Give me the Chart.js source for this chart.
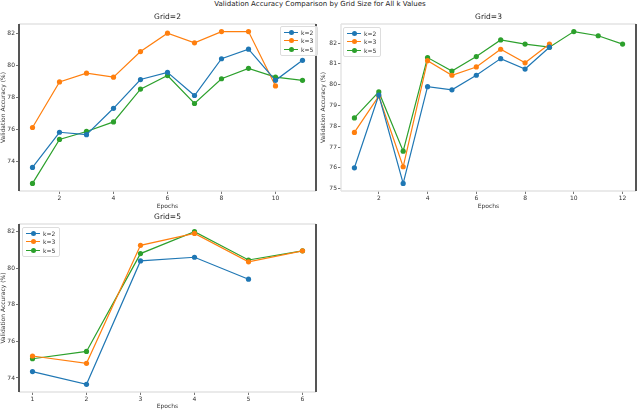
<!DOCTYPE html>
<html>
<head>
<meta charset="utf-8">
<script src="https://cdn.jsdelivr.net/npm/chart.js@4.4.1/dist/chart.umd.min.js"></script>
<style>
    body { margin: 0; background: #fff; font-family: 'DejaVu Sans', sans-serif; }
    #page { position: relative; width: 640px; height: 410px; overflow: hidden; }
    .suptitle { position: absolute; left: 0; top: 0; width: 640px; text-align: center; font-size: 7px; line-height: 9px; color: #222; }
    .panel { position: absolute; width: 320px; height: 210px; }
    .legend { position: absolute; background: rgba(255,255,255,0.85); border: 1px solid #ddd; border-radius: 2px; padding: 1px 4px 1px 3px; font-size: 6px; color: #333; }
    .legend .row { display: flex; align-items: center; height: 8.6px; }
    .legend .swatch { position: relative; width: 14px; height: 6px; margin-right: 3px; }
    .legend .swatch::before { content: ''; position: absolute; left: 0; right: 0; top: 2.4px; border-top: 1.2px solid var(--c); }
    .legend .swatch::after { content: ''; position: absolute; left: 4.5px; top: 0.5px; width: 5px; height: 5px; border-radius: 50%; background: var(--c); }
</style>
</head>
<body>
<div id="page">
    <div class="suptitle">Validation Accuracy Comparison by Grid Size for All k Values</div>
    <div class="panel" style="left:0;top:0"><canvas id="grid2" width="320" height="210"></canvas></div>
    <div class="panel" style="left:320px;top:0"><canvas id="grid3" width="320" height="210"></canvas></div>
    <div class="panel" style="left:0;top:200px"><canvas id="grid5" width="320" height="210"></canvas></div>
    <div class="legend" id="legend2" style="left:280px;top:26px"></div>
    <div class="legend" id="legend3" style="left:343px;top:27px"></div>
    <div class="legend" id="legend5" style="left:22px;top:227px"></div>
</div>
<script>
const kLabels = ['k=2', 'k=3', 'k=5'];
const colors = ['#1f77b4', '#ff7f0e', '#2ca02c'];
const epochs = [1, 2, 3, 4, 5, 6, 7, 8, 9, 10, 11, 12];

// Grid=2
const grid2K2 = [73.6, 75.8, 75.65, 77.3, 79.1, 79.55, 78.1, 80.4, 81.0, 79.05, 80.3];
const grid2K3 = [76.1, 78.95, 79.5, 79.25, 80.85, 82.0, 81.4, 82.1, 82.1, 78.7];
const grid2K5 = [72.6, 75.35, 75.85, 76.45, 78.5, 79.35, 77.6, 79.15, 79.8, 79.25, 79.05];
const grid2XTicks = [2, 4, 6, 8, 10];
const grid2YTicks = [74, 76, 78, 80, 82];

// Grid=3
const grid3K2 = [76.0, 79.5, 75.25, 79.9, 79.75, 80.45, 81.25, 80.75, 81.8];
const grid3K3 = [77.7, 79.45, 76.05, 81.15, 80.45, 80.85, 81.7, 81.05, 81.95];
const grid3K5 = [78.4, 79.65, 76.8, 81.3, 80.65, 81.35, 82.15, 81.95, 81.8, 82.55, 82.35, 81.95];
const grid3XTicks = [2, 4, 6, 8, 10, 12];
const grid3YTicks = [75, 76, 77, 78, 79, 80, 81, 82];

// Grid=5
const grid5K2 = [74.35, 73.65, 80.4, 80.6, 79.4];
const grid5K3 = [75.2, 74.8, 81.25, 81.9, 80.35, 80.95];
const grid5K5 = [75.05, 75.45, 80.8, 82.0, 80.45, 80.95];
const grid5XTicks = [1, 2, 3, 4, 5, 6];
const grid5YTicks = [74, 76, 78, 80, 82];

const FONT = 'DejaVu Sans';

// matplotlib-like 5% margins
function padRange(lo, hi) {
    const m = (hi - lo) * 0.05;
    return [lo - m, hi + m];
}

// spines: light top/bottom, dark right (and left when asked)
const framePlugin = {
    id: 'frame',
    afterDatasetsDraw(chart, args, opts) {
        const { left, right, top, bottom } = chart.chartArea;
        const ctx = chart.ctx;
        ctx.save();
        ctx.lineWidth = 1.5;
        ctx.strokeStyle = '#e4e4e4';
        ctx.beginPath();
        ctx.moveTo(left, top); ctx.lineTo(right, top);
        ctx.moveTo(left, bottom); ctx.lineTo(right, bottom);
        ctx.stroke();
        ctx.strokeStyle = opts.leftColor || '#e4e4e4';
        ctx.lineWidth = opts.leftColor ? 2 : 1.5;
        ctx.beginPath(); ctx.moveTo(left, top); ctx.lineTo(left, bottom); ctx.stroke();
        ctx.strokeStyle = '#555';
        ctx.lineWidth = 2;
        ctx.beginPath(); ctx.moveTo(right, top); ctx.lineTo(right, bottom); ctx.stroke();
        ctx.restore();
    }
};

function buildLegend(id) {
    const box = document.getElementById(id);
    kLabels.forEach((label, i) => {
        const row = document.createElement('div');
        row.className = 'row';
        row.innerHTML = `<span class="swatch" style="--c:${colors[i]}"></span><span>${label}</span>`;
        box.appendChild(row);
    });
}

function makePanel(id, title, series, xTicks, yTicks, cfg) {
    const allY = series.flat();
    const longest = Math.max(...series.map(s => s.length));
    const [xMin, xMax] = padRange(epochs[0], epochs[longest - 1]);
    const [yMin, yMax] = padRange(Math.min(...allY), Math.max(...allY));

    const datasets = series.map((values, i) => ({
        label: kLabels[i],
        data: values.map((v, j) => ({ x: epochs[j], y: v })),
        borderColor: colors[i],
        backgroundColor: colors[i],
        borderWidth: 1.2,
        pointRadius: 2.6,
        pointBorderWidth: 0,
        tension: 0
    }));

    const tickFont = { family: FONT, size: 6 };
    const gridCfg = { drawOnChartArea: false, drawTicks: true, tickLength: 3, tickColor: '#555', tickWidth: 0.8 };

    return new Chart(document.getElementById(id), {
        type: 'line',
        data: { datasets },
        plugins: [framePlugin],
        options: {
            responsive: false,
            animation: false,
            layout: { padding: { top: 12.5, right: cfg.padRight, left: 0, bottom: 0 } },
            plugins: {
                legend: { display: false },
                tooltip: { enabled: false },
                frame: { leftColor: cfg.leftColor },
                title: {
                    display: true,
                    text: title,
                    fullSize: false,
                    color: '#222',
                    font: { family: FONT, size: 7.5, weight: 'normal' },
                    padding: { top: 0, bottom: 2.5 }
                }
            },
            scales: {
                x: {
                    type: 'linear',
                    min: xMin,
                    max: xMax,
                    afterBuildTicks: s => { s.ticks = xTicks.map(v => ({ value: v })); },
                    afterFit: s => { s.height = cfg.xHeight; },
                    ticks: { font: tickFont, color: '#333', padding: 1, maxRotation: 0, autoSkip: false },
                    grid: gridCfg,
                    border: { display: false },
                    title: { display: true, text: 'Epochs', color: '#333', font: tickFont, padding: 0 }
                },
                y: {
                    min: yMin,
                    max: yMax,
                    afterBuildTicks: s => { s.ticks = yTicks.map(v => ({ value: v })); },
                    afterFit: s => { s.width = cfg.yWidth; },
                    ticks: { font: tickFont, color: '#333', padding: 1, autoSkip: false },
                    grid: gridCfg,
                    border: { display: false },
                    title: { display: true, text: 'Validation Accuracy (%)', color: '#333', font: tickFont, padding: 0 }
                }
            }
        }
    });
}

makePanel('grid2', 'Grid=2', [grid2K2, grid2K3, grid2K5], grid2XTicks, grid2YTicks,
    { padRight: 4, yWidth: 19, xHeight: 19, leftColor: '#555' });
makePanel('grid3', 'Grid=3', [grid3K2, grid3K3, grid3K5], grid3XTicks, grid3YTicks,
    { padRight: 3, yWidth: 21, xHeight: 19 });
makePanel('grid5', 'Grid=5', [grid5K2, grid5K3, grid5K5], grid5XTicks, grid5YTicks,
    { padRight: 4, yWidth: 19, xHeight: 18, leftColor: '#555' });

buildLegend('legend2');
buildLegend('legend3');
buildLegend('legend5');
</script>
</body>
</html>
